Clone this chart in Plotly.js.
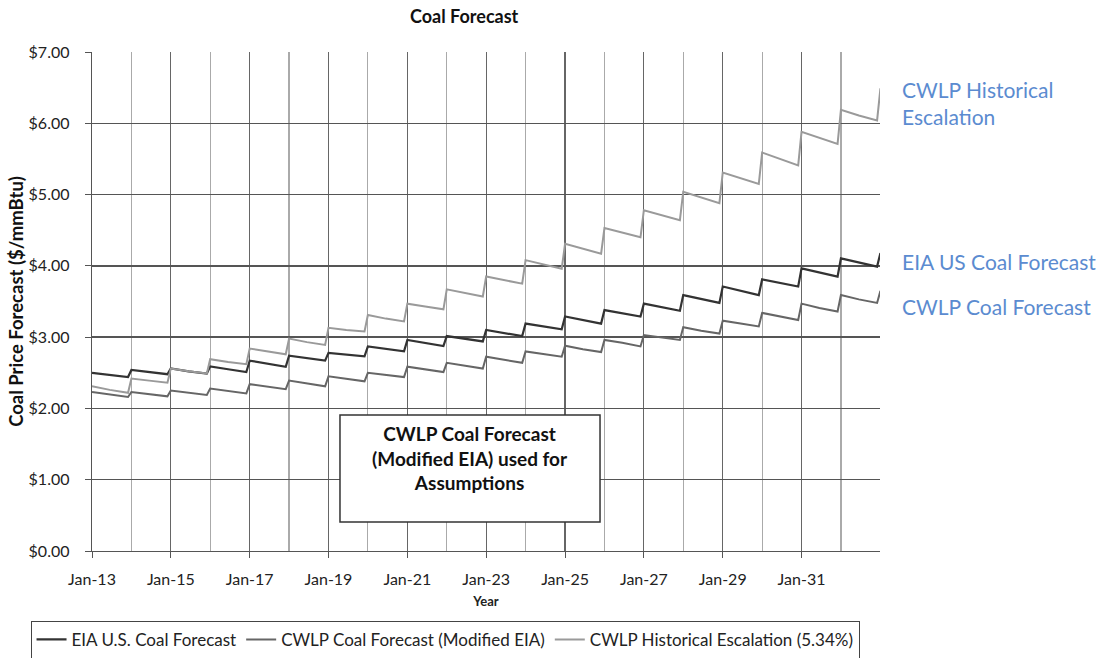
<!DOCTYPE html>
<html>
<head>
<meta charset="utf-8">
<script src="https://cdn.plot.ly/plotly-3.0.1.min.js"></script>
<style>html,body{margin:0;padding:0;background:#fff;}#chart{width:1100px;height:658px;}</style>
</head>
<body>
<div id="chart"></div>
<script>
// Points per year: Jan, mid-year, Dec; final point Jan 2033
const years = [2013,2014,2015,2016,2017,2018,2019,2020,2021,2022,2023,2024,2025,2026,2027,2028,2029,2030,2031,2032];
const pointDays = ['-01-01','-06-15','-12-01'];
const finalDate = '2033-01-01';

const eiaForecast = [
  2.50,2.47,2.44, 2.54,2.51,2.48, 2.56,2.52,2.49, 2.59,2.55,2.51, 2.67,2.63,2.585,
  2.74,2.71,2.67, 2.78,2.75,2.73, 2.87,2.84,2.80, 2.96,2.92,2.875, 3.015,2.98,2.94,
  3.10,3.06,3.015, 3.19,3.15,3.11, 3.29,3.24,3.19, 3.38,3.34,3.29, 3.47,3.42,3.37,
  3.59,3.54,3.48, 3.71,3.65,3.59, 3.81,3.76,3.71, 3.965,3.91,3.85, 4.105,4.05,3.99,
  4.18
];
const cwlpForecast = [
  2.23,2.20,2.16, 2.23,2.20,2.17, 2.25,2.22,2.19, 2.28,2.25,2.21, 2.34,2.31,2.27,
  2.39,2.35,2.31, 2.45,2.42,2.38, 2.50,2.47,2.44, 2.585,2.55,2.51, 2.64,2.60,2.56,
  2.725,2.68,2.64, 2.80,2.76,2.725, 2.88,2.83,2.79, 2.96,2.92,2.87, 3.03,3.00,2.96,
  3.14,3.09,3.05, 3.23,3.19,3.15, 3.34,3.29,3.24, 3.47,3.41,3.36, 3.59,3.53,3.48,
  3.65
];
const historicalEscalation = [
  2.31,2.26,2.22, 2.42,2.39,2.36, 2.56,2.52,2.49, 2.69,2.65,2.62, 2.84,2.80,2.76,
  2.98,2.93,2.89, 3.13,3.10,3.08, 3.31,3.26,3.22, 3.47,3.43,3.39, 3.67,3.62,3.57,
  3.85,3.80,3.75, 4.08,4.02,3.96, 4.31,4.24,4.17, 4.53,4.47,4.40, 4.78,4.71,4.64,
  5.04,4.96,4.88, 5.31,5.23,5.15, 5.59,5.50,5.41, 5.88,5.80,5.71, 6.19,6.11,6.04,
  6.49
];

const seriesNames = ['EIA U.S. Coal Forecast','CWLP Coal Forecast (Modified EIA)','CWLP Historical Escalation (5.34%)'];

const dates = [];
years.forEach(y => pointDays.forEach(d => dates.push(y + d)));
dates.push(finalDate);

const FONT = 'Lato, "Open Sans", sans-serif';
const traces = [
  {x: dates, y: eiaForecast, name: seriesNames[0], mode:'lines', line:{color:'#333333', width:2.2}},
  {x: dates, y: cwlpForecast, name: seriesNames[1], mode:'lines', line:{color:'#666666', width:2}},
  {x: dates, y: historicalEscalation, name: seriesNames[2], mode:'lines', line:{color:'#9a9a9a', width:2}}
];

const blue = '#5b8bd0';
const layout = {
  width:1100, height:658,
  margin:{l:92, r:220, t:52, b:107, autoexpand:false},
  paper_bgcolor:'#fff', plot_bgcolor:'#fff',
  font:{family:FONT, color:'#222', size:16},
  showlegend:true,
  title:{text:'<b>Coal Forecast</b>', font:{size:18, color:'#111'}, xref:'container', x:0.422, xanchor:'center', yref:'container', y:0.974, yanchor:'middle'},
  xaxis:{
    type:'date', range:['2013-01-01','2032-12-28'],
    tick0:'2013-01-01', dtick:'M24', tickformat:'%b-%y',
    showgrid:true, gridcolor:'#666', gridwidth:1.3,
    minor:{dtick:'M12', tick0:'2013-01-01', showgrid:true, gridcolor:'#aaa', gridwidth:1.2},
    ticks:'outside', ticklen:6, tickcolor:'#555', ticklabelstandoff:7,
    showline:true, linecolor:'#555', linewidth:1.3,
    tickfont:{size:16, color:'#222'},
    title:{text:'<b>Year</b>', font:{size:13, color:'#222'}, standoff:10},
    zeroline:false
  },
  yaxis:{
    range:[0,7], dtick:1, tickformat:'$.2f',
    showgrid:true, gridcolor:'#555', gridwidth:1.3,
    ticks:'outside', ticklen:6, tickcolor:'#555', ticklabelstandoff:12,
    showline:true, linecolor:'#555', linewidth:1.3,
    tickfont:{size:16, color:'#222'},
    title:{text:'<b>Coal Price Forecast ($/mmBtu)</b>', font:{size:18.5, color:'#111'}, standoff:0},
    zeroline:false
  },
  legend:{
    orientation:'h', xref:'paper', yref:'paper', x:-0.078, y:-0.14, xanchor:'left', yanchor:'top',
    bordercolor:'#444', borderwidth:1, bgcolor:'#fff',
    font:{size:17, color:'#222'}, itemwidth:30, tracegroupgap:0
  },
  shapes:[
    {type:'rect', xref:'paper', yref:'paper', x0:0.3147, x1:0.6447, y0:0.0581, y1:0.2725,
     line:{color:'#333', width:1.5}, fillcolor:'#fff', layer:'above'}
  ],
  annotations:[
    {xref:'paper', yref:'paper', x:0.4797, y:0.186, xanchor:'center', yanchor:'middle', showarrow:false,
     text:'<b>CWLP Coal Forecast<br>(Modified EIA) used for<br>Assumptions</b>', align:'center',
     font:{size:19, color:'#111', family:FONT}},
    {xref:'paper', yref:'paper', x:1.025, y:0.898, xanchor:'left', yanchor:'middle', showarrow:false,
     text:'CWLP Historical<br>Escalation', align:'left', font:{size:21, color:blue, family:FONT}},
    {xref:'paper', yref:'paper', x:1.025, y:0.581, xanchor:'left', yanchor:'middle', showarrow:false,
     text:'EIA US Coal Forecast', align:'left', font:{size:21, color:blue, family:FONT}},
    {xref:'paper', yref:'paper', x:1.025, y:0.489, xanchor:'left', yanchor:'middle', showarrow:false,
     text:'CWLP Coal Forecast', align:'left', font:{size:21, color:blue, family:FONT}}
  ]
};

Plotly.newPlot('chart', traces, layout, {displayModeBar:false, staticPlot:true});
</script>
</body>
</html>
